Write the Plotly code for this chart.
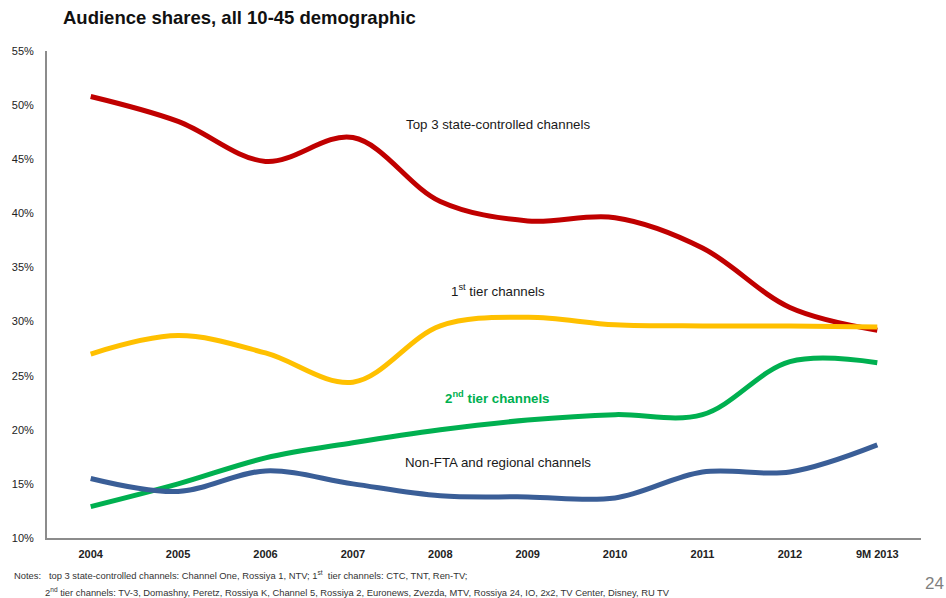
import plotly.graph_objects as go

years = ["2004", "2005", "2006", "2007", "2008", "2009", "2010", "2011", "2012", "9M 2013"]
top3_state = [50.8, 48.5, 44.8, 47.0, 41.1, 39.3, 39.6, 36.8, 31.3, 29.2]
tier1 = [27.0, 28.7, 27.1, 24.4, 29.6, 30.4, 29.7, 29.6, 29.6, 29.5]
tier2 = [12.9, 15.0, 17.4, 18.8, 20.0, 20.9, 21.4, 21.4, 26.3, 26.2]
non_fta = [15.5, 14.3, 16.2, 15.0, 13.9, 13.8, 13.7, 16.1, 16.1, 18.6]

series = [
    ("Top 3 state-controlled channels", top3_state, "#C00000"),
    ("1st tier channels", tier1, "#FFC000"),
    ("2nd tier channels", tier2, "#00B050"),
    ("Non-FTA and regional channels", non_fta, "#3A5E97"),
]

W, H = 946, 598
L, R, T, B = 47, 25, 51, 60
PW, PH = W - L - R, H - T - B


def px(x):
    return (x - L) / PW


def py(y):
    return (H - B - y) / PH


fig = go.Figure()
for name, vals, col in series:
    fig.add_trace(go.Scatter(
        x=years, y=vals, mode="lines", name=name,
        line=dict(color=col, width=5, shape="spline", smoothing=1.0),
        hoverinfo="skip",
    ))

font_main = "Liberation Sans, Arial, sans-serif"

fig.update_layout(
    width=W, height=H, autosize=False,
    margin=dict(l=L, r=R, t=T, b=B),
    paper_bgcolor="white", plot_bgcolor="white",
    showlegend=False,
    font=dict(family=font_main, color="#222222"),
    title=dict(
        text="<b>Audience shares, all 10-45 demographic</b>",
        x=63 / W, xref="container", xanchor="left",
        y=1 - 18 / H, yref="container", yanchor="middle",
        font=dict(size=18.5, color="#111111", family=font_main),
    ),
    xaxis=dict(
        type="category", range=[-0.5, 9.5],
        showline=True, linecolor="#8c8c8c", linewidth=2,
        showgrid=False, zeroline=False,
        ticks="outside", ticklen=5, tickcolor="rgba(0,0,0,0)",
        tickfont=dict(size=11, color="#222222", family=font_main),
        tickprefix="<b>", ticksuffix="</b>",
    ),
    yaxis=dict(
        range=[10, 55], dtick=5, tick0=10,
        showline=True, linecolor="#8c8c8c", linewidth=2,
        showgrid=False, zeroline=False,
        ticks="outside", ticklen=9, tickcolor="rgba(0,0,0,0)",
        ticksuffix="%",
        tickfont=dict(size=11, color="#222222", family=font_main),
    ),
)

ann_font = dict(size=13.3, color="#1a1a1a", family=font_main)
fig.add_annotation(x=4.66, y=48.2, xref="x", yref="y", text="Top 3 state-controlled channels",
                   showarrow=False, font=ann_font)
fig.add_annotation(x=4.66, y=32.9, xref="x", yref="y", text="1<sup>st</sup> tier channels",
                   showarrow=False, font=ann_font)
fig.add_annotation(x=4.66, y=23.0, xref="x", yref="y", text="<b>2<sup>nd</sup> tier channels</b>",
                   showarrow=False, font=dict(size=13.3, color="#00B050", family=font_main))
fig.add_annotation(x=4.66, y=17.0, xref="x", yref="y", text="Non-FTA and regional channels",
                   showarrow=False, font=ann_font)

note_font = dict(size=9.4, color="#333333", family=font_main)
fig.add_annotation(x=px(12), y=py(575), xref="paper", yref="paper",
                   xanchor="left", yanchor="middle", showarrow=False, font=note_font,
                   text="Notes:   top 3 state-controlled channels: Channel One, Rossiya 1, NTV; 1<sup>st</sup>  tier channels: CTC, TNT, Ren-TV;")
fig.add_annotation(x=px(43), y=py(592), xref="paper", yref="paper",
                   xanchor="left", yanchor="middle", showarrow=False, font=note_font,
                   text="2<sup>nd</sup> tier channels: TV-3, Domashny, Peretz, Rossiya K, Channel 5, Rossiya 2, Euronews, Zvezda, MTV, Rossiya 24, IO, 2x2, TV Center, Disney, RU TV")
fig.add_annotation(x=px(934), y=py(583), xref="paper", yref="paper",
                   xanchor="center", yanchor="middle", showarrow=False,
                   font=dict(size=17, color="#7f7f7f", family=font_main), text="24")

fig.write_html("out.html", config={"displayModeBar": False},
               post_script="document.body.style.margin='0';document.body.style.padding='0';")
